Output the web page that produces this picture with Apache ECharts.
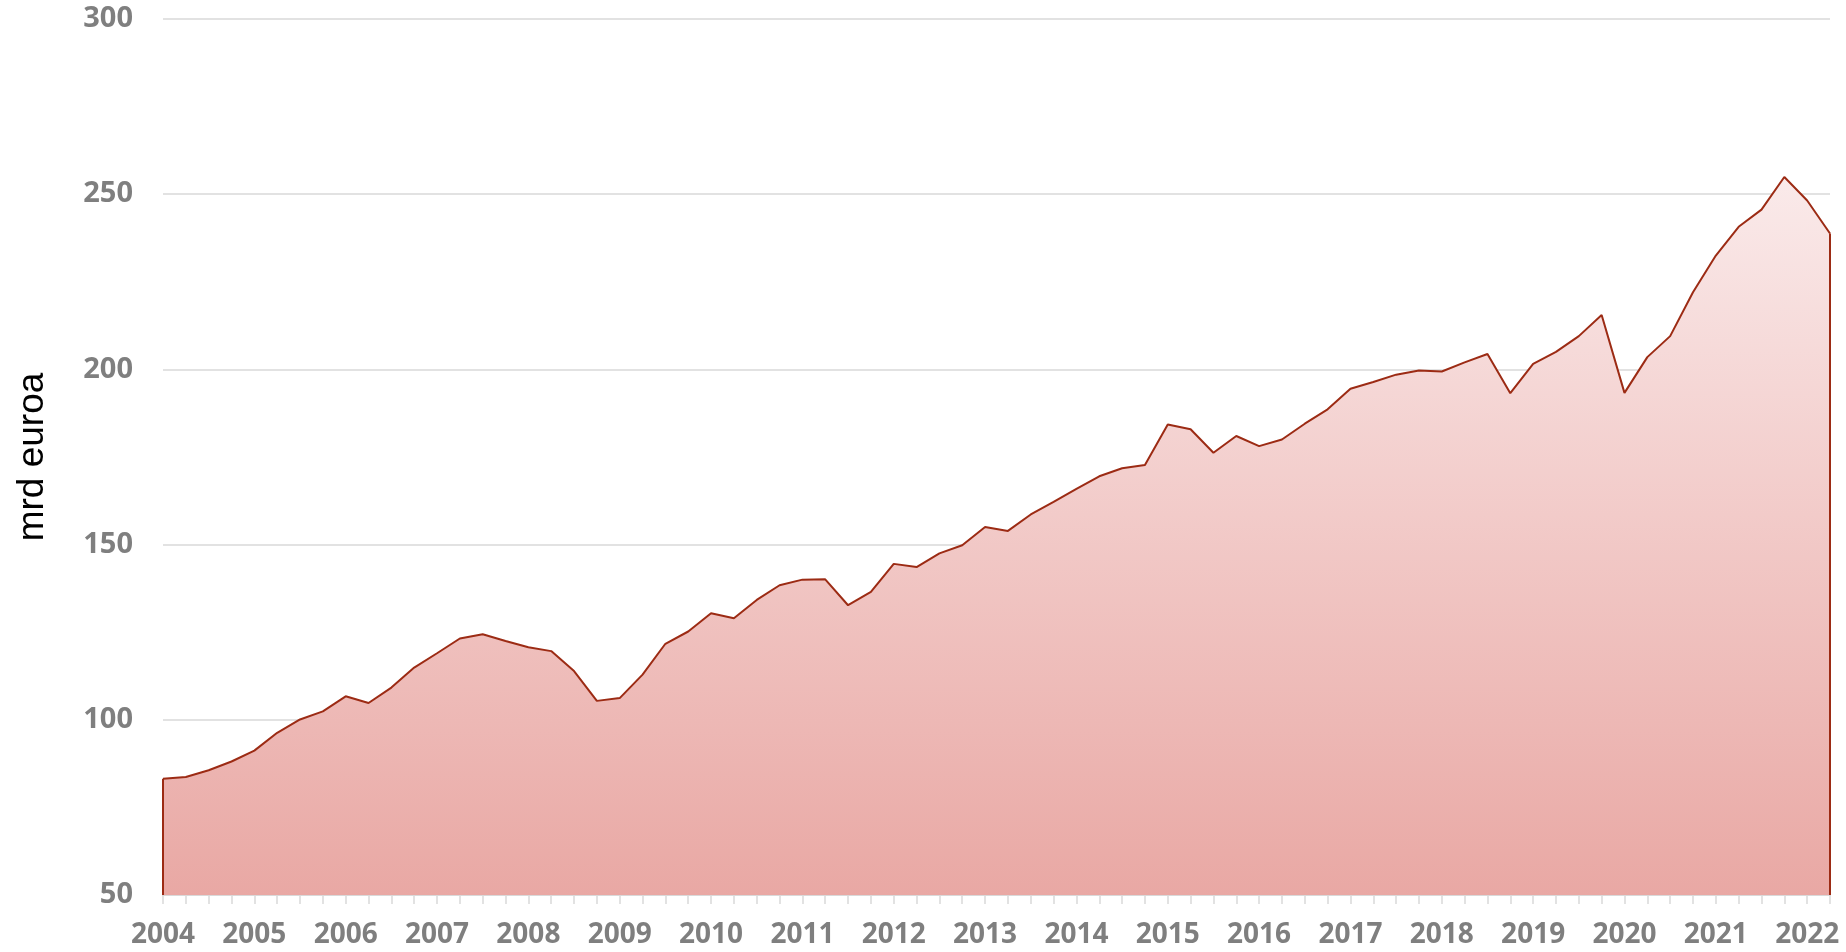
<!DOCTYPE html>
<html>
<head>
<meta charset="utf-8">
<script src="https://cdn.jsdelivr.net/npm/echarts@6/dist/echarts.min.js"></script>
<style>
  html, body { margin: 0; padding: 0; background: #fff; }
  #chart { width: 1846px; height: 952px; }
</style>
</head>
<body>
<div id="chart"></div>
<script>
// quarterly values, 2004 Q1 .. 2022 Q2 (mrd euroa)
const years = [2004, 2005, 2006, 2007, 2008, 2009, 2010, 2011, 2012, 2013,
	2014, 2015, 2016, 2017, 2018, 2019, 2020, 2021, 2022];
const quarters = ['Q1', 'Q2', 'Q3', 'Q4'];
const values = [
	83.2, 83.7, 85.6, 88.1,
	91.2, 96.3, 100.1, 102.4,
	106.7, 104.8, 109.2, 114.9,
	119.0, 123.2, 124.4, 122.5,
	120.7, 119.6, 113.9, 105.4,
	106.2, 112.9, 121.7, 125.2,
	130.4, 129.0, 134.2, 138.4,
	140.0, 140.1, 132.7, 136.5,
	144.5, 143.6, 147.5, 149.8,
	155.0, 153.9, 158.6, 162.2,
	165.9, 169.5, 171.8, 172.7,
	184.3, 182.9, 176.2, 181.0,
	178.1, 180.0, 184.5, 188.6,
	194.5, 196.4, 198.5, 199.7,
	199.4, 202.0, 204.4, 193.2,
	201.6, 205.0, 209.5, 215.5,
	193.3, 203.5, 209.5, 222.0,
	232.5, 240.7, 245.6, 254.9,
	248.2, 238.8
];

const categories = [];
years.forEach(y => quarters.forEach(q => categories.push(y + ' ' + q)));
categories.length = values.length;

const yMin = 50;
const yMax = 300;
const last = values.length - 1;

const chart = echarts.init(document.getElementById('chart'), null, { renderer: 'canvas' });

const option = {
	animation: false,
	grid: { left: 163, right: 16, top: 19, bottom: 57 },
	xAxis: {
		type: 'category',
		data: categories,
		boundaryGap: false,
		axisLine: { lineStyle: { color: '#d9d9d9', width: 2 } },
		axisTick: { show: true, interval: 0, length: 9, lineStyle: { color: '#d9d9d9', width: 1.5 } },
		axisLabel: {
			interval: 3,
			margin: 26,
			color: '#7f7f7f',
			fontFamily: 'Open Sans',
			fontWeight: 'bold',
			fontSize: 28,
			formatter: v => v.split(' ')[0]
		},
		splitLine: { show: false }
	},
	yAxis: {
		type: 'value',
		min: yMin,
		max: yMax,
		interval: 50,
		name: 'mrd euroa',
		nameLocation: 'middle',
		nameRotate: 90,
		nameGap: 112,
		nameTextStyle: { color: '#000', fontFamily: 'Liberation Sans', fontSize: 37 },
		axisLine: { show: false },
		axisTick: { show: false },
		axisLabel: {
			margin: 30,
			color: '#7f7f7f',
			fontFamily: 'Open Sans',
			fontWeight: 'bold',
			fontSize: 29
		},
		splitLine: { lineStyle: { color: '#d9d9d9', width: 1.5 } }
	},
	series: [
		{
			type: 'line',
			data: values,
			symbol: 'none',
			lineStyle: { color: '#9c2b14', width: 2 },
			areaStyle: {
				origin: 'start',
				opacity: 1,
				color: new echarts.graphic.LinearGradient(0, 0, 0, 1, [
					{ offset: 0, color: '#faeaea' },
					{ offset: 1, color: '#e9a8a4' }
				])
			},
			markLine: {
				silent: true,
				symbol: 'none',
				label: { show: false },
				lineStyle: { color: '#9c2b14', width: 2, type: 'solid' },
				data: [
					[{ coord: [categories[0], yMin] }, { coord: [categories[0], values[0]] }],
					[{ coord: [categories[last], yMin] }, { coord: [categories[last], values[last]] }]
				]
			}
		}
	]
};

chart.setOption(option);
</script>
</body>
</html>
